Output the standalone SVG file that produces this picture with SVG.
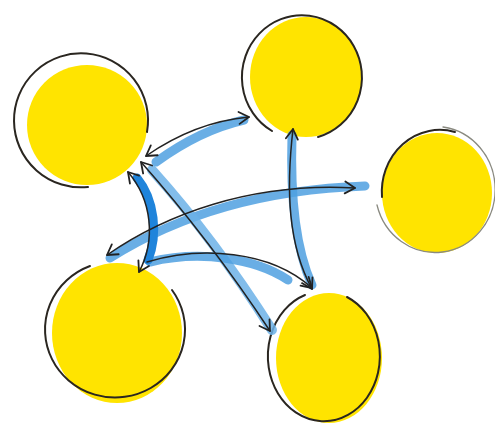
<svg xmlns="http://www.w3.org/2000/svg" width="495" height="427" viewBox="0 0 495 427">
  <style>
    .fill { fill: #FFE400; }
    .ink { fill: none; stroke: #2a2620; stroke-width: 2; stroke-linecap: round; }
    .ink-light { fill: none; stroke: #8a8a80; stroke-width: 1.3; stroke-linecap: round; }
    .wash { fill: none; stroke: #4FA0E0; stroke-width: 9; stroke-linecap: round; opacity: 0.85; }
    .wash-light { fill: none; stroke: #6CB2E8; stroke-width: 10; stroke-linecap: round; opacity: 0.85; }
    .wash-dark { fill: none; stroke: #1F84DB; stroke-width: 9; stroke-linecap: round; }
    .line { fill: none; stroke: #222; stroke-width: 1.5; stroke-linecap: round; }
  </style>
  <defs>
    <marker id="ah" viewBox="-12 -8 14 16" markerWidth="14" markerHeight="16" refX="0" refY="0" orient="auto-start-reverse" markerUnits="userSpaceOnUse">
      <path d="M-10,-6 L0,0 L-10,6" fill="none" stroke="#222" stroke-width="1.8" stroke-linecap="round" stroke-linejoin="round"/>
    </marker>
  </defs>

  <g id="node-top-left">
    <ellipse class="fill" cx="87" cy="125" rx="60" ry="60"/>
    <path class="ink" d="M147,132 A67,67 0 1 0 88,187"/>
  </g>
  <g id="node-top-center">
    <ellipse class="fill" cx="306" cy="77" rx="56" ry="60"/>
    <path class="ink" d="M318,137 A60,62 0 1 0 272,131"/>
  </g>
  <g id="node-right">
    <ellipse class="fill" cx="437" cy="193" rx="55" ry="60"/>
    <path class="ink-light" d="M443,127 A60,63 0 1 1 377,205"/>
    <path class="ink" d="M382,197 A58,62 0 0 1 455,132"/>
  </g>
  <g id="node-bottom-left">
    <ellipse class="fill" cx="117" cy="333" rx="65" ry="70"/>
    <path class="ink" d="M90,266 A70,68 0 1 0 172,290"/>
  </g>
  <g id="node-bottom-center">
    <ellipse class="fill" cx="329" cy="358" rx="53" ry="65"/>
    <path class="ink" d="M305,295 A56,65 0 1 0 347,297"/>
  </g>

  <g id="connectors">
    <path class="wash" d="M156,162 Q200,130 244,120"/>
    <path class="wash" d="M292,135 C290,200 296,250 312,285"/>
    <path class="wash" d="M110,258 C170,220 250,190 365,186"/>
    <path class="wash-light" d="M152,170 Q215,240 272,330"/>
    <path class="wash" d="M150,262 C200,250 255,258 288,280"/>
    <path class="wash-dark" d="M137,178 C155,200 158,235 148,260"/>

    <path class="line" d="M146,156 Q195,122 249,117" marker-start="url(#ah)" marker-end="url(#ah)"/>
    <path class="line" d="M293,129 C286,190 288,245 312,289" marker-start="url(#ah)" marker-end="url(#ah)"/>
    <path class="line" d="M107,255 C165,215 250,182 355,188" marker-start="url(#ah)" marker-end="url(#ah)"/>
    <path class="line" d="M128,172 C152,200 156,240 139,272" marker-start="url(#ah)" marker-end="url(#ah)"/>
    <path class="line" d="M141,162 Q210,240 270,331" marker-start="url(#ah)" marker-end="url(#ah)"/>
    <path class="line" d="M147,262 C200,246 270,250 312,288" marker-end="url(#ah)"/>
  </g>
</svg>
